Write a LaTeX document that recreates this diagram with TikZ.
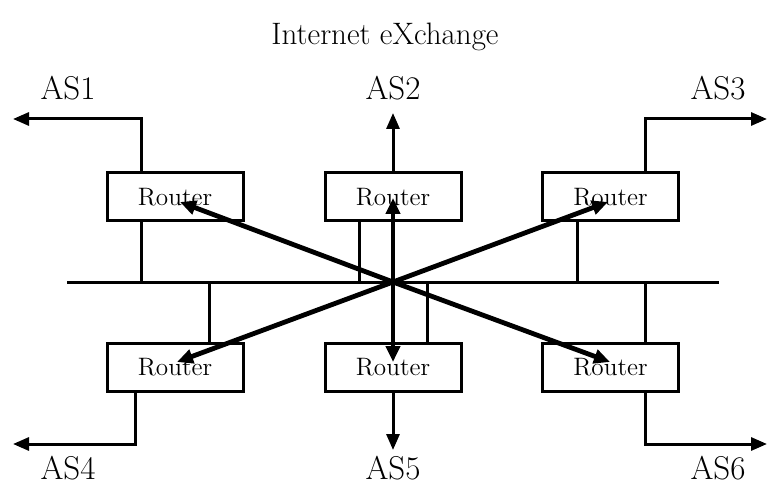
\documentclass[tikz,border=0pt]{standalone}
\usetikzlibrary{arrows.meta}
\begin{document}
\begin{tikzpicture}[x=0.5pt,y=-0.5pt,
  router/.style={draw,line width=1.5pt,minimum width=68pt,minimum height=24pt,
    inner sep=0pt,font=\fontsize{12.6}{14}\selectfont},
  wire/.style={line width=1.5pt},
  link/.style={wire,-{Triangle[length=8pt,width=6.5pt]}},
  flow/.style={line width=2.4pt,-{Triangle[length=8pt,width=7pt]}},
  lbl/.style={font=\fontsize{16.5}{19}\selectfont,inner sep=0pt},
  ttl/.style={font=\fontsize{15.5}{18}\selectfont,inner sep=0pt}]
\useasboundingbox (0,0) rectangle (769,491);

% title
\node[ttl] (title) at (385,37) {Internet eXchange};

% shared exchange bus
\coordinate (busL) at (67,282);
\coordinate (busR) at (719,282);
\coordinate (hub) at (393,282);
\draw[wire] (busL) -- (busR);

% routers
\node[router] (r1) at (175,197) {Router};
\node[router] (r2) at (393,197) {Router};
\node[router] (r3) at (610.5,197) {Router};
\node[router] (r4) at (175,367) {Router};
\node[router] (r5) at (393,367) {Router};
\node[router] (r6) at (610.5,367) {Router};

% AS endpoints
\coordinate (e1) at (13,119);
\coordinate (e2) at (393,113);
\coordinate (e3) at (767,119);
\coordinate (e4) at (13,444);
\coordinate (e5) at (393,450);
\coordinate (e6) at (767,444);

\node[lbl] (as1) at (68,88) {AS1};
\node[lbl] (as2) at (393,88) {AS2};
\node[lbl] (as3) at (718,88) {AS3};
\node[lbl] (as4) at (68,468) {AS4};
\node[lbl] (as5) at (393,468) {AS5};
\node[lbl] (as6) at (718,468) {AS6};

% router taps onto the bus
\draw[wire] ([xshift=-17pt]r1.south) -- ([xshift=-17pt]r1.south |- hub);
\draw[wire] ([xshift=-17pt]r2.south) -- ([xshift=-17pt]r2.south |- hub);
\draw[wire] ([xshift=-16.75pt]r3.south) -- ([xshift=-16.75pt]r3.south |- hub);
\draw[wire] ([xshift=17pt]r4.north) -- ([xshift=17pt]r4.north |- hub);
\draw[wire] ([xshift=17pt]r5.north) -- ([xshift=17pt]r5.north |- hub);
\draw[wire] ([xshift=17.25pt]r6.north) -- ([xshift=17.25pt]r6.north |- hub);

% uplinks to the autonomous systems
\draw[link] ([xshift=-17pt]r1.north) |- (e1);
\draw[link] (r2.north) -- (e2);
\draw[link] ([xshift=17.25pt]r3.north) |- (e3);
\draw[link] ([xshift=-20pt]r4.south) |- (e4);
\draw[link] (r5.south) -- (e5);
\draw[link] ([xshift=17.25pt]r6.south) |- (e6);

% traffic exchanged through the hub
\draw[flow] (hub) -- ([shift={(2.5pt,-2.5pt)}]r1.center);
\draw[flow] (hub) -- ([shift={(0pt,-0.5pt)}]r2.center);
\draw[flow] (hub) -- ([shift={(-1.25pt,-2.5pt)}]r3.center);
\draw[flow] (hub) -- ([shift={(1pt,2.5pt)}]r4.center);
\draw[flow] (hub) -- ([shift={(0pt,2.5pt)}]r5.center);
\draw[flow] (hub) -- ([shift={(-0.25pt,2.5pt)}]r6.center);
\end{tikzpicture}
\end{document}
